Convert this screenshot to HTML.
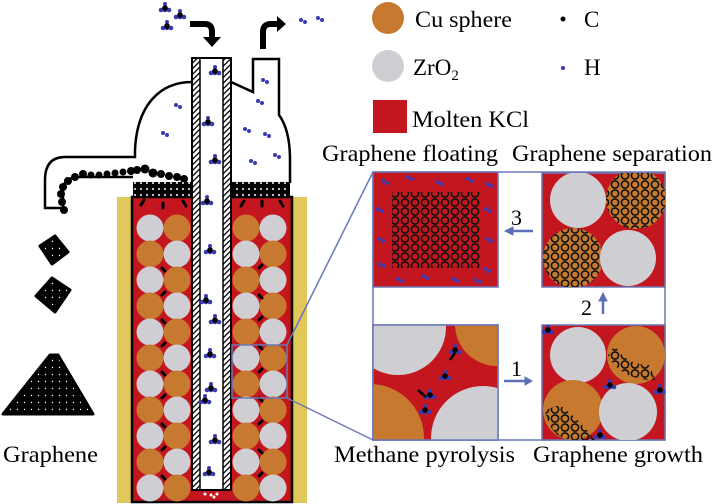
<!DOCTYPE html>
<html><head><meta charset="utf-8"><style>
html,body{margin:0;padding:0;background:#fff}
svg{display:block}
svg text{font-family:"Liberation Serif","DejaVu Serif","Times New Roman",serif}
</style></head><body>
<svg width="714" height="504" viewBox="0 0 714 504" xmlns="http://www.w3.org/2000/svg">
<defs>
<pattern id="hatch" width="4" height="4" patternUnits="userSpaceOnUse" patternTransform="rotate(45)">
<rect width="4" height="4" fill="#fff"/><rect width="1.3" height="4" fill="#000"/></pattern>
<pattern id="gran" width="6" height="6" patternUnits="userSpaceOnUse">
<rect width="6" height="6" fill="#000"/><circle cx="3" cy="3" r="1" fill="#fff"/></pattern>
<pattern id="gran2" width="7" height="7" patternUnits="userSpaceOnUse">
<rect width="7" height="7" fill="#000"/><circle cx="3.5" cy="3.5" r="0.7" fill="#fff"/></pattern>
<pattern id="hex2" width="10" height="9" patternUnits="userSpaceOnUse">
<circle cx="5" cy="4.5" r="3.6" fill="none" stroke="#111" stroke-width="1.6"/></pattern>
<g id="ch4"><circle cx="0" cy="-4" r="2" fill="#3a3ab0"/><circle cx="-4" cy="2" r="2.3" fill="#3a3ab0"/><circle cx="4" cy="2" r="2.3" fill="#3a3ab0"/><circle cx="0" cy="2" r="2.3" fill="#3a3ab0"/><circle cx="0" cy="0" r="2.8" fill="#000"/></g>
<g id="h2"><circle cx="-2" cy="-1" r="2" fill="#3a3ab0"/><circle cx="2" cy="1" r="2" fill="#3a3ab0"/></g>
</defs>

<use href="#ch4" x="165" y="8"/><use href="#ch4" x="180" y="15"/><use href="#ch4" x="167" y="26"/>
<path d="M190 24 H205 Q212 24 212 32 V38" fill="none" stroke="#000" stroke-width="6"/>
<path d="M203 37 L221 37 L212 47 Z" fill="#000"/>
<path d="M263 49 V32 Q263 24 271 24 H278" fill="none" stroke="#000" stroke-width="6"/>
<path d="M277 16 L286 24 L277 32 Z" fill="#000"/>
<use href="#h2" x="303" y="21"/><use href="#h2" x="320" y="19"/>

<path d="M192 82 C160 82 137 105 135 150 L135 157 H65 Q45 157 45 180 V208 H63 V190 Q63 177 80 177 H133" fill="none" stroke="#000" stroke-width="2.5"/>
<path d="M231 82 L253 92 V59 H279 V115 Q290 130 290 160 V183" fill="none" stroke="#000" stroke-width="2.5"/>
<g fill="#000">
<circle cx="64" cy="210" r="4"/><circle cx="62" cy="202" r="4"/><circle cx="61" cy="194" r="4"/><circle cx="63" cy="187" r="4"/><circle cx="68" cy="181" r="4"/><circle cx="75" cy="177" r="4"/>
<circle cx="83" cy="174" r="4"/><circle cx="91" cy="175" r="3.5"/><circle cx="99" cy="175" r="3.5"/><circle cx="107" cy="174" r="3.5"/><circle cx="115" cy="173" r="3.5"/><circle cx="123" cy="172" r="3.5"/><circle cx="131" cy="171" r="4"/><circle cx="137" cy="170" r="4"/><circle cx="145" cy="169" r="4.5"/><circle cx="153" cy="173" r="4.5"/><circle cx="161" cy="174" r="4"/><circle cx="169" cy="176" r="4"/><circle cx="177" cy="177" r="4"/><circle cx="184" cy="179" r="4"/>
</g>
<use href="#h2" x="178" y="106"/><use href="#h2" x="165" y="134"/><use href="#h2" x="265" y="81"/><use href="#h2" x="260" y="102"/><use href="#h2" x="247" y="130"/><use href="#h2" x="267" y="135"/><use href="#h2" x="277" y="156"/><use href="#h2" x="253" y="162"/>

<rect x="117" y="197" width="15" height="306" fill="#e2c85a"/>
<rect x="292" y="197" width="15" height="306" fill="#e2c85a"/>
<rect x="132" y="197" width="160" height="305" fill="#c3161f" stroke="#000" stroke-width="2.5"/>
<rect x="133" y="182" width="59" height="15" fill="url(#gran)"/>
<rect x="231" y="182" width="59" height="15" fill="url(#gran)"/>
<g>
<circle cx="150" cy="228" r="13.5" fill="#cfcfd3"/><circle cx="177" cy="228" r="13.5" fill="#c77a2f"/>
<circle cx="150" cy="254" r="13.5" fill="#c77a2f"/><circle cx="177" cy="254" r="13.5" fill="#cfcfd3"/>
<circle cx="150" cy="280" r="13.5" fill="#cfcfd3"/><circle cx="177" cy="280" r="13.5" fill="#c77a2f"/>
<circle cx="150" cy="306" r="13.5" fill="#c77a2f"/><circle cx="177" cy="306" r="13.5" fill="#cfcfd3"/>
<circle cx="150" cy="332" r="13.5" fill="#cfcfd3"/><circle cx="177" cy="332" r="13.5" fill="#c77a2f"/>
<circle cx="150" cy="358" r="13.5" fill="#c77a2f"/><circle cx="177" cy="358" r="13.5" fill="#cfcfd3"/>
<circle cx="150" cy="384" r="13.5" fill="#cfcfd3"/><circle cx="177" cy="384" r="13.5" fill="#c77a2f"/>
<circle cx="150" cy="410" r="13.5" fill="#c77a2f"/><circle cx="177" cy="410" r="13.5" fill="#cfcfd3"/>
<circle cx="150" cy="436" r="13.5" fill="#cfcfd3"/><circle cx="177" cy="436" r="13.5" fill="#c77a2f"/>
<circle cx="150" cy="462" r="13.5" fill="#c77a2f"/><circle cx="177" cy="462" r="13.5" fill="#cfcfd3"/>
<circle cx="150" cy="488" r="13.5" fill="#cfcfd3"/><circle cx="177" cy="488" r="13.5" fill="#c77a2f"/>
</g>
<g>
<circle cx="246" cy="228" r="13.5" fill="#c77a2f"/><circle cx="273" cy="228" r="13.5" fill="#cfcfd3"/>
<circle cx="246" cy="254" r="13.5" fill="#cfcfd3"/><circle cx="273" cy="254" r="13.5" fill="#c77a2f"/>
<circle cx="246" cy="280" r="13.5" fill="#c77a2f"/><circle cx="273" cy="280" r="13.5" fill="#cfcfd3"/>
<circle cx="246" cy="306" r="13.5" fill="#cfcfd3"/><circle cx="273" cy="306" r="13.5" fill="#c77a2f"/>
<circle cx="246" cy="332" r="13.5" fill="#c77a2f"/><circle cx="273" cy="332" r="13.5" fill="#cfcfd3"/>
<circle cx="246" cy="358" r="13.5" fill="#cfcfd3"/><circle cx="273" cy="358" r="13.5" fill="#c77a2f"/>
<circle cx="246" cy="384" r="13.5" fill="#c77a2f"/><circle cx="273" cy="384" r="13.5" fill="#cfcfd3"/>
<circle cx="246" cy="410" r="13.5" fill="#cfcfd3"/><circle cx="273" cy="410" r="13.5" fill="#c77a2f"/>
<circle cx="246" cy="436" r="13.5" fill="#c77a2f"/><circle cx="273" cy="436" r="13.5" fill="#cfcfd3"/>
<circle cx="246" cy="462" r="13.5" fill="#cfcfd3"/><circle cx="273" cy="462" r="13.5" fill="#c77a2f"/>
<circle cx="246" cy="488" r="13.5" fill="#c77a2f"/><circle cx="273" cy="488" r="13.5" fill="#cfcfd3"/>
</g>
<g stroke="#000" stroke-width="3" stroke-linecap="round">
<path d="M141 205 l3 -5"/><path d="M163 208 v-5"/><path d="M186 206 l-3 -5"/><path d="M241 206 l3 -5"/><path d="M262 206 v-5"/><path d="M283 206 l-3 -5"/>
<path d="M162 268 l3 3"/><path d="M162 295 l3 -3"/><path d="M162 320 l3 3"/><path d="M162 346 l3 -3"/><path d="M162 372 l3 3"/><path d="M162 398 l3 -3"/><path d="M162 424 l3 3"/><path d="M162 450 l3 -3"/><path d="M162 476 l3 3"/>
<path d="M259 268 l3 -3"/><path d="M259 295 l3 3"/><path d="M259 320 l3 -3"/><path d="M259 346 l3 3"/><path d="M259 372 l3 -3"/><path d="M259 398 l3 3"/><path d="M259 424 l3 -3"/><path d="M259 450 l3 3"/><path d="M259 476 l3 -3"/>
</g>
<rect x="192" y="58" width="39" height="432" fill="#fff" stroke="#000" stroke-width="2"/>
<rect x="193" y="59" width="7" height="430" fill="url(#hatch)"/>
<rect x="223" y="59" width="7" height="430" fill="url(#hatch)"/>
<line x1="200" y1="59" x2="200" y2="489" stroke="#000" stroke-width="1.5"/>
<line x1="223" y1="59" x2="223" y2="489" stroke="#000" stroke-width="1.5"/>
<g fill="#fff"><circle cx="205" cy="494" r="1.5"/><circle cx="211" cy="495" r="1.5"/><circle cx="217" cy="494" r="1.5"/><circle cx="214" cy="497" r="1.5"/></g>
<use href="#ch4" x="215" y="71"/><use href="#ch4" x="208" y="122"/><use href="#ch4" x="215" y="160"/><use href="#ch4" x="207" y="201"/><use href="#ch4" x="210" y="250"/><use href="#ch4" x="206" y="300"/><use href="#ch4" x="215" y="320"/><use href="#ch4" x="210" y="354"/><use href="#ch4" x="211" y="388"/><use href="#ch4" x="205" y="400"/><use href="#ch4" x="215" y="440"/><use href="#ch4" x="209" y="472"/>

<rect x="232" y="345" width="55" height="53" fill="none" stroke="#6a78b8" stroke-width="1.5"/>
<line x1="287" y1="345" x2="373" y2="172" stroke="#6a78b8" stroke-width="1.5"/>
<line x1="287" y1="398" x2="373" y2="440" stroke="#6a78b8" stroke-width="1.5"/>

<g fill="url(#gran2)" stroke="#000" stroke-width="3" stroke-linejoin="round">
<path d="M40 246 L55 236 L68 252 L52 264 Z"/>
<path d="M36 296 L52 278 L70 290 L55 312 Z"/>
<path d="M3 414 L50 355 L58 355 L93 414 Z"/>
</g>
<text x="3" y="462" font-size="23" textLength="95" lengthAdjust="spacingAndGlyphs">Graphene</text>

<circle cx="388" cy="18" r="16" fill="#c77a2f"/>
<text x="415" y="27" font-size="23" textLength="97" lengthAdjust="spacingAndGlyphs">Cu sphere</text>
<circle cx="388" cy="66" r="16" fill="#cfcfd3"/>
<text x="413" y="75" font-size="23">ZrO<tspan font-size="15" dy="5">2</tspan></text>
<rect x="373" y="100" width="34" height="33" fill="#c3161f"/>
<text x="412" y="127" font-size="23" textLength="117" lengthAdjust="spacingAndGlyphs">Molten KCl</text>
<circle cx="563" cy="19" r="2.5" fill="#000"/><text x="584" y="27" font-size="23">C</text>
<circle cx="563" cy="68" r="2" fill="#3a3ab0"/><text x="584" y="75" font-size="23">H</text>

<text x="322" y="161" font-size="23" textLength="176" lengthAdjust="spacingAndGlyphs">Graphene floating</text>
<text x="512" y="161" font-size="23" textLength="200" lengthAdjust="spacingAndGlyphs">Graphene separation</text>
<text x="334" y="462" font-size="23" textLength="181" lengthAdjust="spacingAndGlyphs">Methane pyrolysis</text>
<text x="533" y="462" font-size="23" textLength="170" lengthAdjust="spacingAndGlyphs">Graphene growth</text>

<rect x="373" y="172" width="292" height="268" fill="#fff" stroke="#6a78b8" stroke-width="1.5"/>
<clipPath id="c1"><rect x="373" y="172" width="125" height="115"/></clipPath>
<clipPath id="c2"><rect x="542" y="173" width="123" height="114"/></clipPath>
<clipPath id="c3"><rect x="373" y="325" width="125" height="115"/></clipPath>
<clipPath id="c4"><rect x="542" y="325" width="123" height="115"/></clipPath>

<rect x="373" y="172" width="125" height="115" fill="#c3161f" stroke="#6a78b8" stroke-width="1.5"/>
<rect x="392" y="192" width="88" height="76" fill="url(#hex2)"/>
<g clip-path="url(#c1)">
<use href="#h2" x="385" y="182"/><use href="#h2" x="410" y="178"/><use href="#h2" x="440" y="183"/><use href="#h2" x="470" y="180"/><use href="#h2" x="490" y="185"/>
<use href="#h2" x="380" y="210"/><use href="#h2" x="381" y="240"/><use href="#h2" x="382" y="265"/><use href="#h2" x="488" y="210"/><use href="#h2" x="490" y="240"/><use href="#h2" x="487" y="270"/>
<use href="#h2" x="400" y="280"/><use href="#h2" x="425" y="277"/><use href="#h2" x="455" y="280"/><use href="#h2" x="478" y="281"/>
</g>

<rect x="542" y="173" width="123" height="114" fill="#c3161f" stroke="#6a78b8" stroke-width="1.5"/>
<g clip-path="url(#c2)">
<circle cx="578" cy="200" r="28" fill="#cfcfd3"/>
<circle cx="636" cy="199" r="30" fill="#c77a2f"/><circle cx="636" cy="199" r="30" fill="url(#hex2)"/>
<circle cx="573" cy="258" r="30" fill="#c77a2f"/><circle cx="573" cy="258" r="30" fill="url(#hex2)"/>
<circle cx="628" cy="258" r="28" fill="#cfcfd3"/>
</g>

<rect x="373" y="325" width="125" height="115" fill="#c3161f" stroke="#6a78b8" stroke-width="1.5"/>
<g clip-path="url(#c3)">
<circle cx="398" cy="327" r="48" fill="#cfcfd3"/>
<circle cx="497" cy="324" r="42" fill="#c77a2f"/>
<circle cx="370" cy="438" r="54" fill="#c77a2f"/>
<circle cx="483" cy="438" r="52" fill="#cfcfd3"/>
<use href="#ch4" x="445" y="376"/><use href="#ch4" x="430" y="395"/><use href="#ch4" x="455" y="350"/><use href="#ch4" x="425" y="410"/>
<path d="M418 390 l8 7 M450 360 l5 -7" stroke="#000" stroke-width="2.5"/>
</g>
<rect x="373" y="325" width="125" height="115" fill="none" stroke="#6a78b8" stroke-width="1.5"/>

<rect x="542" y="325" width="123" height="115" fill="#c3161f" stroke="#6a78b8" stroke-width="1.5"/>
<g clip-path="url(#c4)">
<circle cx="578" cy="355" r="28" fill="#cfcfd3"/>
<circle cx="636" cy="355" r="29" fill="#c77a2f"/>
<path d="M608 355 Q620 380 655 380 L650 365 Q625 365 615 345 Z" fill="url(#hex2)"/>
<circle cx="573" cy="410" r="30" fill="#c77a2f"/>
<path d="M545 410 Q550 440 575 440 L595 440 Q580 420 560 405 Z" fill="url(#hex2)"/>
<circle cx="628" cy="412" r="29" fill="#cfcfd3"/>
<use href="#ch4" x="548" y="330"/><use href="#ch4" x="610" y="385"/><use href="#ch4" x="660" y="390"/><use href="#ch4" x="600" y="435"/>
</g>

<g fill="#5a6fb8" stroke="#5a6fb8">
<line x1="504" y1="381" x2="526" y2="381" stroke-width="2.5"/><path d="M525 377 L532 381 L525 385 Z"/>
<line x1="512" y1="231" x2="533" y2="231" stroke-width="2.5"/><path d="M513 227 L505 231 L513 235 Z"/>
<line x1="603" y1="300" x2="603" y2="314" stroke-width="2.5"/><path d="M599 301 L603 293 L607 301 Z"/>
</g>
<text x="511" y="376" font-size="22">1</text>
<text x="581" y="315" font-size="22">2</text>
<text x="511" y="225" font-size="22">3</text>
</svg>
</body></html>
